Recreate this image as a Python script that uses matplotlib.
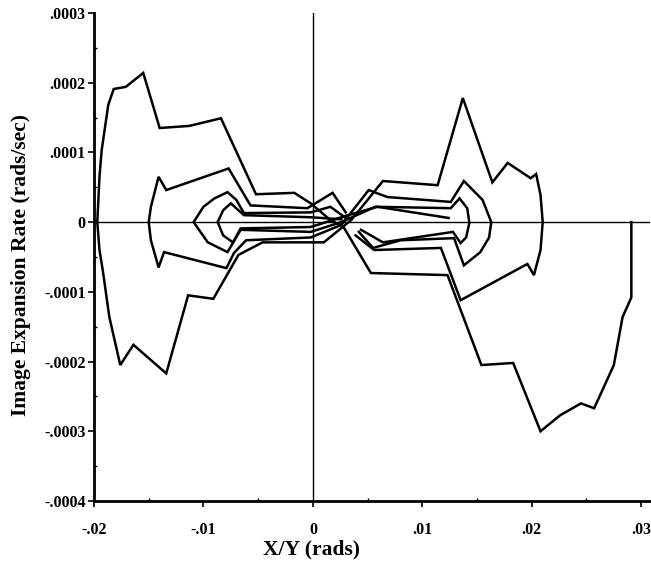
import numpy as np
import matplotlib
matplotlib.use("Agg")
import matplotlib.pyplot as plt
from matplotlib.ticker import MultipleLocator

# traced curves, x in rads, y in 1e-5 rads/sec
x1 = [0.0291, 0.0291, 0.0283, 0.0275, 0.0257, 0.0245, 0.0226, 0.0208, 0.0183, 0.0154,
      0.0123, 0.0053, 0.0028, 0.0016, -0.0002, -0.0017, -0.0052, -0.0084, -0.0113, -0.0140,
      -0.0155, -0.0171, -0.0182, -0.0187, -0.0193, -0.0195, -0.0197, -0.0195, -0.0192, -0.0186,
      -0.0176, -0.0164, -0.0134, -0.0114, -0.0091, -0.0068, -0.0046, 0.0010, 0.0035, 0.0064,
      0.0114, 0.0137, 0.0164, 0.0178, 0.0199, 0.0204, 0.0208, 0.0210, 0.0208, 0.0202,
      0.0196, 0.0135, 0.0117, 0.0056, 0.0039]
y1 = [0.0, -10.8, -13.6, -20.5, -26.7, -26.0, -27.7, -30.0, -20.2, -20.5,
      -7.6, -7.3, -0.7, 0.3, 2.7, 4.2, 4.0, 14.9, 13.8, 13.5,
      21.4, 19.4, 19.1, 16.8, 10.3, 6.5, 0.0, -4.0, -6.9, -13.6,
      -20.5, -17.6, -21.7, -10.5, -11.0, -4.7, -2.9, -2.9, 0.3, 5.9,
      5.3, 17.8, 5.7, 8.5, 6.3, 6.9, 3.9, 0.0, -4.0, -7.6,
      -6.0, -11.2, -3.7, -4.0, -1.9]

x2 = [0.0030, 0.0018, -0.0005, -0.0057, -0.0077, -0.0134, -0.0141, -0.0148, -0.0150, -0.0148,
      -0.0141, -0.0136, -0.0079, -0.0072, -0.0061, -0.0002, 0.0026, 0.0051, 0.0068, 0.0126,
      0.0138, 0.0155, 0.0163, 0.0161, 0.0153, 0.0138, 0.0129, 0.0080, 0.0055, 0.0042]
y2 = [1.4, 4.2, 2.0, 2.4, 7.7, 4.6, 6.5, 2.2, 0.0, -2.6,
      -6.5, -4.3, -6.6, -4.4, -2.6, -2.2, -0.4, 4.6, 3.6, 2.9,
      5.9, 3.2, 0.0, -2.2, -4.3, -6.2, -2.3, -2.6, -3.7, -1.4]

x3 = [0.0030, 0.0016, -0.0002, -0.0063, -0.0070, -0.0078, -0.0090, -0.0100, -0.0109, -0.0096,
      -0.0078, -0.0066, -0.0002, 0.0026, 0.0057, 0.0126, 0.0134, 0.0141, 0.0143, 0.0140,
      0.0135, 0.0128, 0.0064, 0.0044]
y3 = [0.6, 2.2, 1.4, 1.3, 3.2, 4.3, 3.4, 2.2, 0.0, -2.9,
      -4.3, -1.1, -1.4, 0.0, 2.2, 2.0, 3.4, 2.0, -0.1, -2.2,
      -3.0, -1.4, -2.9, -1.1]

x4 = [0.0026, -0.0002, -0.0063, -0.0068, -0.0075, -0.0082, -0.0087, -0.0082, -0.0073, -0.0066,
      -0.0002, 0.0030, 0.0059, 0.0124]
y4 = [0.4, 0.7, 1.0, 1.7, 2.7, 1.7, 0.0, -1.9, -2.9, -0.9,
      -0.7, 0.9, 2.2, 0.6]

curves = [(x1, y1), (x2, y2), (x3, y3), (x4, y4)]

xticks = [-0.02, -0.01, 0.0, 0.01, 0.02, 0.03]
xtick_labels = ['-.02', '-.01', '0', '.01', '.02', '.03']
yticks = [-0.0004, -0.0003, -0.0002, -0.0001, 0.0, 0.0001, 0.0002, 0.0003]
ytick_labels = ['-.0004', '-.0003', '-.0002', '-.0001', '0', '.0001', '.0002', '.0003']

plt.rcParams['font.family'] = ['Liberation Serif', 'DejaVu Serif']

fig = plt.figure(figsize=(6.51, 5.65), dpi=100)
ax = fig.add_axes([0.1444, 0.1133, 0.854, 0.8637])

ax.axhline(0, color='black', lw=1.0, zorder=1)
ax.axvline(0, color='black', lw=1.0, zorder=1)

for xs, ys in curves:
    ax.plot(np.array(xs), np.array(ys) * 1e-5, color='black', lw=1.8,
            solid_joinstyle='miter', zorder=2)

ax.set_xlim(-0.02, 0.0308)
ax.set_ylim(-0.0004, 0.0003)

ax.set_xticks(xticks)
ax.set_xticklabels(xtick_labels)
ax.set_yticks(yticks)
ax.set_yticklabels(ytick_labels)
ax.xaxis.set_minor_locator(MultipleLocator(0.005))
ax.yaxis.set_minor_locator(MultipleLocator(0.00005))

for lab in ax.get_xticklabels() + ax.get_yticklabels():
    lab.set_fontweight('bold')
    lab.set_fontsize(11.5)

ax.tick_params(which='major', direction='out', length=4, width=1.2, pad=2)
ax.tick_params(axis='x', which='major', pad=11)
ax.tick_params(which='minor', direction='in', length=2, width=1.0)

ax.spines['top'].set_visible(False)
ax.spines['right'].set_visible(False)
ax.spines['left'].set_linewidth(2)
ax.spines['bottom'].set_linewidth(2)

ax.set_xlabel('X/Y (rads)', fontsize=15.5, fontweight='bold')
ax.xaxis.set_label_coords(0.392, -0.079)
ax.set_ylabel('Image Expansion Rate (rads/sec)', fontsize=15.5, fontweight='bold')
ax.yaxis.set_label_coords(-0.114, 0.484)

fig.savefig('out.png', dpi=100)
